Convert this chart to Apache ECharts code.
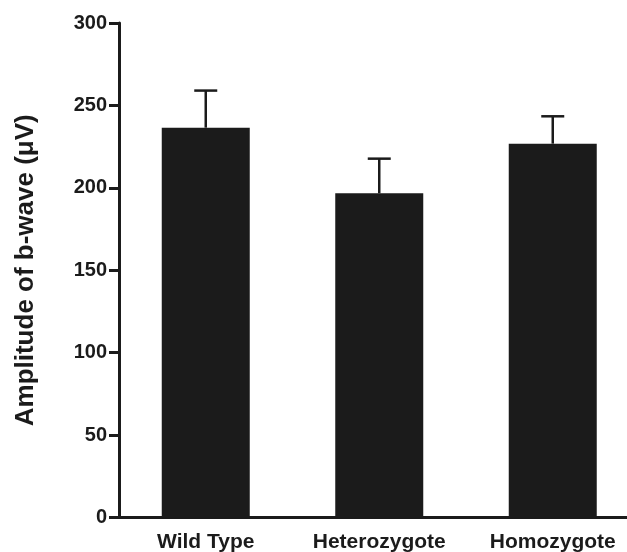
<!DOCTYPE html>
<html>
<head>
<meta charset="utf-8">
<script src="https://cdn.jsdelivr.net/npm/echarts@6/dist/echarts.min.js"></script>
<style>
  html, body { margin: 0; padding: 0; background: #ffffff; }
  #chart { width: 627px; height: 552px; }
</style>
</head>
<body>
<div id="chart"></div>
<script>
// Genotype groups and b-wave amplitude (mean and upper error, µV)
const genotypes = ['Wild Type', 'Heterozygote', 'Homozygote'];
const meanAmplitude = [236.5, 196.7, 226.8];
const errorAmplitude = [22.5, 21.0, 16.6];
const yTicks = [0, 50, 100, 150, 200, 250, 300];

const ink = '#1b1b1b';
const font = "'Liberation Sans', Arial, Helvetica, sans-serif";

const chart = echarts.init(document.getElementById('chart'), null, { renderer: 'canvas' });

const errorData = genotypes.map((g, i) => [i, meanAmplitude[i], meanAmplitude[i] + errorAmplitude[i]]);

chart.setOption({
  animation: false,
  backgroundColor: '#ffffff',
  // the plot area runs past the right edge, so the last category is cut off there
  grid: {
    left: 119, top: 23, height: 494.5, width: 520.5,
    containLabel: false, outerBoundsMode: 'none'
  },
  xAxis: {
    type: 'category',
    data: genotypes,
    boundaryGap: true,
    axisLine: { show: true, lineStyle: { color: ink, width: 3 } },
    axisTick: { show: false },
    axisLabel: {
      interval: 0,
      color: ink, fontFamily: font, fontWeight: 'bold', fontSize: 21, margin: 14
    },
    splitLine: { show: false }
  },
  yAxis: {
    type: 'value',
    min: yTicks[0],
    max: yTicks[yTicks.length - 1],
    interval: yTicks[1] - yTicks[0],
    name: 'Amplitude of b-wave (\u03bcV)',
    nameLocation: 'middle',
    nameGap: 80,
    nameTextStyle: { color: ink, fontFamily: font, fontWeight: 'bold', fontSize: 26 },
    axisLine: { show: true, lineStyle: { color: ink, width: 3 } },
    axisTick: { show: true, inside: false, length: 10, lineStyle: { color: ink, width: 3 } },
    axisLabel: {
      color: ink, fontFamily: font, fontWeight: 'bold', fontSize: 20, margin: 12
    },
    splitLine: { show: false }
  },
  series: [
    {
      type: 'bar',
      data: meanAmplitude,
      barWidth: 88,
      itemStyle: { color: ink },
      z: 2
    },
    {
      type: 'custom',
      data: errorData,
      encode: { x: 0, y: [1, 2] },
      z: 3,
      clip: false,
      renderItem: function (params, api) {
        const base = api.coord([api.value(0), api.value(1)]);
        const top = api.coord([api.value(0), api.value(2)]);
        const half = 11.5;
        const style = { stroke: ink, lineWidth: 2.5 };
        return {
          type: 'group',
          children: [
            { type: 'line', shape: { x1: top[0], y1: base[1], x2: top[0], y2: top[1] }, style: style },
            { type: 'line', shape: { x1: top[0] - half, y1: top[1], x2: top[0] + half, y2: top[1] }, style: style }
          ]
        };
      }
    }
  ]
});
</script>
</body>
</html>
